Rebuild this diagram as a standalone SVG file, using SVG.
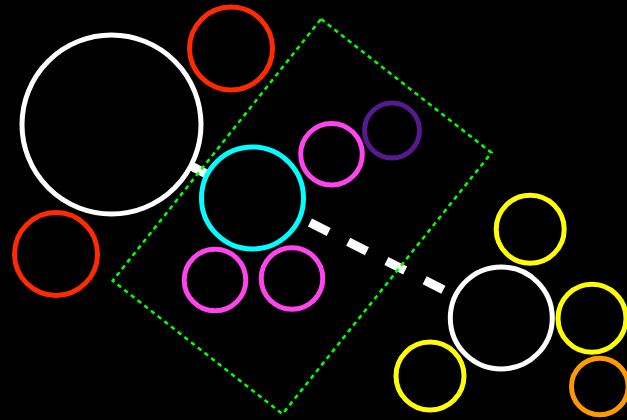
<svg xmlns="http://www.w3.org/2000/svg" width="627" height="420" viewBox="0 0 627 420">
<style>
.n{fill:#000;stroke-width:5}
.c{stroke:#fff;stroke-width:9;stroke-dasharray:21 21.8;fill:none}
.cl{fill:none;stroke:#00ff00;stroke-width:2.6;stroke-dasharray:4.5 4}
</style>
<rect width="627" height="420" fill="#000"/>
<g id="connectors">
<line class="c" x1="111.5" y1="124.5" x2="252.5" y2="198"/>
<line class="c" x1="252.5" y1="193.7" x2="501" y2="318.7" stroke-dashoffset="-21.5"/>
</g>
<g id="n1"><circle class="n" cx="111.5" cy="124.5" r="89.5" stroke="#fff"/></g>
<g id="n2"><circle class="n" cx="231" cy="48.5" r="41.5" stroke="#ff2a00"/></g>
<g id="n3"><circle class="n" cx="56" cy="254" r="41.5" stroke="#ff2a00"/></g>
<g id="n4"><circle class="n" cx="252.5" cy="198" r="51" stroke="#00ffff"/></g>
<g id="n5"><circle class="n" cx="331.5" cy="154.3" r="30.8" stroke="#ff44ee"/></g>
<g id="n6"><circle class="n" cx="392" cy="130.5" r="27.5" stroke="#551a8b"/></g>
<g id="n7"><circle class="n" cx="215" cy="280" r="30.8" stroke="#ff44ee"/></g>
<g id="n8"><circle class="n" cx="292" cy="278.5" r="30.8" stroke="#ff44ee"/></g>
<g id="n9"><circle class="n" cx="530.2" cy="229.3" r="34" stroke="#ffff00"/></g>
<g id="n10"><circle class="n" cx="501.3" cy="318" r="51" stroke="#fff"/></g>
<g id="n11"><circle class="n" cx="592" cy="318.3" r="34" stroke="#ffff00"/></g>
<g id="n12"><circle class="n" cx="430" cy="376" r="34" stroke="#ffff00"/></g>
<g id="n13"><circle class="n" cx="599.8" cy="386.5" r="28.3" stroke="#ff9900"/></g>
<g id="cluster"><polygon class="cl" points="321,19 491.5,152.7 282.5,414 112.7,280.7"/></g>
</svg>
